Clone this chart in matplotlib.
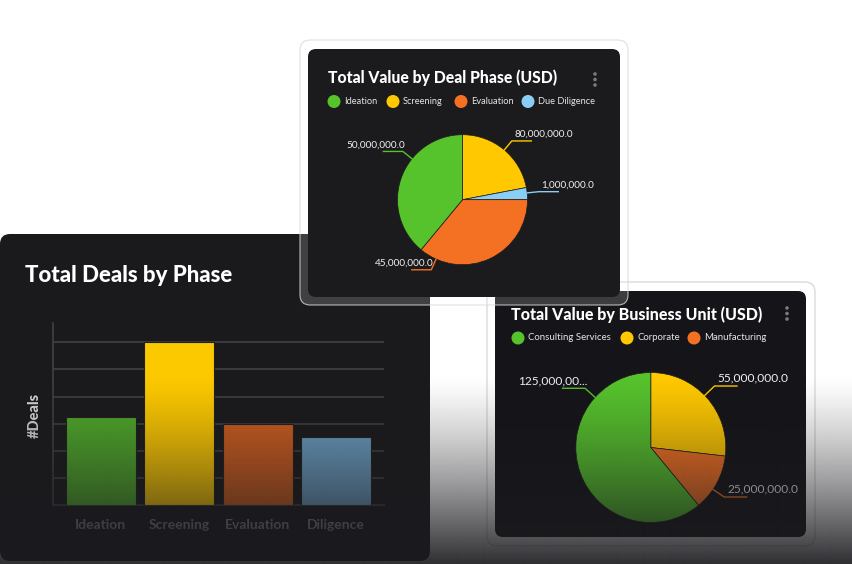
import numpy as np
import matplotlib
matplotlib.use('Agg')
import matplotlib.pyplot as plt
from matplotlib.patches import FancyBboxPatch, Circle

W, H = 852, 564

# --- data -------------------------------------------------------------
bar_phases = ['Ideation', 'Screening', 'Evaluation', 'Diligence']
bar_deals = [13, 24, 12, 10]
bar_colors = ['#4fa82a', '#fcc800', '#cc5c1e', '#6a9cc0']

deal_phases = ['Ideation', 'Screening', 'Evaluation', 'Due Diligence']
deal_values = [50_000_000, 80_000_000, 45_000_000, 1_000_000]
deal_share = [39, 22, 36, 3]          # slice sizes as drawn in the picture
deal_colors = ['#56c22c', '#ffc800', '#f47022', '#88cef5']

units = ['Consulting Services', 'Corporate', 'Manufacturing']
unit_values = [125_000_000, 55_000_000, 25_000_000]
unit_colors = ['#56c22c', '#ffc800', '#f47022']

FONT = 'Lato'
plt.rcParams['font.family'] = [FONT, 'DejaVu Sans']

fig = plt.figure(figsize=(W / 100, H / 100), dpi=100)
fig.patch.set_facecolor('white')


def px_rect(x0, y0, x1, y1):
    return [x0 / W, 1 - y1 / H, (x1 - x0) / W, (y1 - y0) / H]


def card(ax, x0, y0, x1, y1, fc, ec='none', r=8, lw=0):
    ax.add_patch(FancyBboxPatch((x0, y0), x1 - x0, y1 - y0,
                                boxstyle=f'round,pad=0,rounding_size={r}',
                                fc=fc, ec=ec, lw=lw))


def fmt(v):
    s = f'{v:,.1f}'
    return s if len(s) <= 12 else s[:10] + '...'


# background canvas in pixel coordinates
bg = fig.add_axes([0, 0, 1, 1])
bg.set_xlim(0, W)
bg.set_ylim(H, 0)
bg.axis('off')
bg.set_zorder(0)

card(bg, 0, 234, 430, 561, '#1a1a1d', r=10)
card(bg, 487, 282, 815, 546, 'white', ec='#d2d2d2', r=10, lw=0.8)
card(bg, 495, 291, 806, 537, '#151519', r=8)
card(bg, 300, 40, 628, 305, (1, 1, 1, 0.17), ec=(0.85, 0.85, 0.85, 0.8), r=10, lw=0.8)
card(bg, 308, 49, 620, 297, '#1b1b1e', r=8)

# titles
bg.text(25, 275, 'Total Deals by Phase', color='white', fontsize=16,
        fontweight='black', va='center', ha='left')
bg.text(328, 78, 'Total Value by Deal Phase (USD)', color='white', fontsize=11.3,
        fontweight='black', va='center', ha='left')
bg.text(511, 315, 'Total Value by Business Unit (USD)', color='white', fontsize=11.5,
        fontweight='black', va='center', ha='left')
bg.text(35, 415, '#Deals', color='#d8d8d8', fontsize=10.5, fontweight='black',
        rotation=90, va='center', ha='center')

# menu dots
for x, y0 in [(595, 74), (787, 308)]:
    for k in range(3):
        bg.add_patch(Circle((x, y0 + 5.5 * k), 1.8, fc='#7a7a7a', ec='none'))


def legend_row(xs, y, labels, colors, size):
    for x, lab, c in zip(xs, labels, colors):
        bg.add_patch(Circle((x, y), 6.5, fc=c, ec='none'))
        bg.text(x + 10, y, lab, color='#e6e6e6', fontsize=size, va='center', ha='left')


legend_row([334, 393, 461, 528], 101.5, deal_phases, deal_colors, 6.7)
legend_row([518, 627, 694], 338, units, unit_colors, 6.9)

# --- bar chart ----------------------------------------------------------
ax = fig.add_axes(px_rect(52.7, 322.7, 384, 505))
ax.set_zorder(2)
ax.patch.set_alpha(0)
x = np.arange(len(bar_phases))
ax.bar(x, bar_deals, width=0.893, color=bar_colors, edgecolor='#202022',
       linewidth=0.8, zorder=3)
ax.set_xlim(-0.612, 3.61)
ax.set_ylim(0, 26.9)
ax.set_yticks(range(4, 25, 4))
ax.yaxis.grid(True, color='#404145', linewidth=1.2)
ax.set_axisbelow(True)
for s in ['top', 'right']:
    ax.spines[s].set_visible(False)
for s in ['left', 'bottom']:
    ax.spines[s].set_color('#404145')
    ax.spines[s].set_linewidth(1.2)
ax.tick_params(axis='y', length=0, labelleft=False)
ax.set_xticks(x)
ax.set_xticklabels(bar_phases, fontweight='bold')
ax.tick_params(axis='x', length=0, pad=10, labelcolor='#8a8a8a', labelsize=10)


# --- pies ---------------------------------------------------------------
def draw_pie(cx, cy, r, shares, colors, order, labels, angles, size):
    pa = fig.add_axes(px_rect(cx - r, cy - r, cx + r, cy + r))
    pa.set_zorder(3)
    pa.pie([shares[i] for i in order], colors=[colors[i] for i in order],
           startangle=90, counterclock=False, radius=1,
           wedgeprops=dict(edgecolor='#1b1b1e', linewidth=0.5))
    pa.set_xlim(-1, 1)
    pa.set_ylim(-1, 1)
    pa.axis('off')
    for lab, ang, c in zip(labels, angles, colors):
        a = np.radians(ang)
        ex, ey = np.cos(a), np.sin(a)
        bx, by = 1.18 * ex, 1.18 * ey
        side = 1 if ex > 0 else -1
        pa.plot([ex, bx, bx + side * 0.3], [ey, by, by], color=c, lw=1,
                clip_on=False)
        if side > 0:
            pa.text(bx + 0.04, by + 0.03, lab, ha='left', va='bottom',
                    color='#f0f0f0', fontsize=size, clip_on=False)
        else:
            pa.text(bx + 0.03, by + 0.03, lab, ha='right', va='bottom',
                    color='#f0f0f0', fontsize=size, clip_on=False)


draw_pie(462.5, 199.7, 65, deal_share, deal_colors, [1, 3, 2, 0],
         [fmt(v) for v in deal_values], [141, 50, -114, 6], 7.2)
draw_pie(650.8, 447.5, 75, unit_values, unit_colors, [1, 2, 0],
         [fmt(v) for v in unit_values], [138, 44, -34], 8.6)

# --- bottom fade ----------------------------------------------------------
ov = fig.add_axes([0, 0, 1, 1])
ov.set_zorder(10)
ov.axis('off')
yy = np.arange(H)
t = np.clip((yy - 375) / 189, 0, 1)
img = np.zeros((H, 1, 4))
img[:, 0, 0] = 27 / 255
img[:, 0, 1] = 27 / 255
img[:, 0, 2] = 31 / 255
img[:, 0, 3] = 0.92 * t ** 1.3
ov.imshow(img, extent=(0, W, H, 0), aspect='auto', interpolation='bilinear')
ov.set_xlim(0, W)
ov.set_ylim(H, 0)

fig.savefig('out.png', dpi=100)
